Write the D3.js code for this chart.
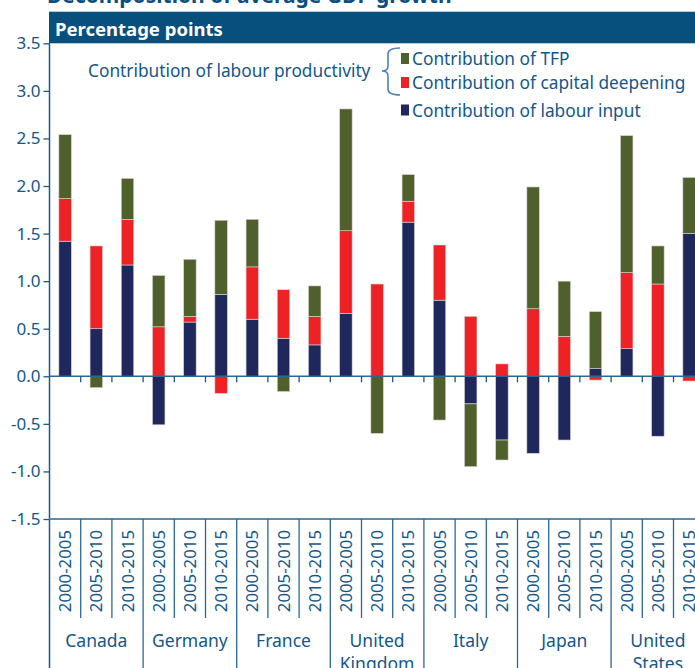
<!DOCTYPE html>
<html>
<head>
<meta charset="utf-8">
<script src="https://cdn.jsdelivr.net/npm/d3@7"></script>
<style>
  html,body{margin:0;padding:0;background:#fff;overflow:hidden;}
  #chart{width:695px;height:668px;}
  text{font-family:"Noto Sans","Open Sans",sans-serif;}
</style>
</head>
<body>
<div id="chart"></div>
<script>
// Decomposition of average GDP growth, stacked by contribution
const countries = ['Canada','Germany','France','United Kingdom','Italy','Japan','United States'];
const periods = ['2000-2005','2005-2010','2010-2015'];
// one value per country x period, in the order above
const labourInput = [1.42,0.50,1.17, -0.51,0.57,0.86, 0.60,0.40,0.33, 0.66,0.00,1.62, 0.80,-0.29,-0.67, -0.81,-0.67,0.08, 0.29,-0.63,1.50];
const capitalDeepening = [0.45,0.87,0.48, 0.52,0.06,-0.18, 0.55,0.51,0.30, 0.87,0.97,0.22, 0.58,0.63,0.13, 0.71,0.42,-0.04, 0.80,0.97,-0.05];
const tfp = [0.67,-0.12,0.43, 0.54,0.60,0.78, 0.50,-0.16,0.32, 1.28,-0.60,0.28, -0.46,-0.66,-0.21, 1.28,0.58,0.60, 1.44,0.40,0.59];
const yTicks = [3.5,3.0,2.5,2.0,1.5,1.0,0.5,0.0,-0.5,-1.0,-1.5];
const seriesNames = ['Contribution of TFP','Contribution of capital deepening','Contribution of labour input'];

const rows = [];
countries.forEach((c,i)=>periods.forEach((p,j)=>{
  const k = i*3+j;
  rows.push({id:k, country:c, period:p, labour:labourInput[k], capital:capitalDeepening[k], tfp:tfp[k]});
}));

const colors = {labour:'#1e285c', capital:'#ee2125', tfp:'#50602c'};
const textCol = '#135789';
const axisCol = '#1b5987';

const W = 695, H = 668;
const svg = d3.select('#chart').append('svg').attr('width',W).attr('height',H);

const plotLeft = 49.5, step = 31.2;
const plotRight = plotLeft + step*rows.length;
const plotTop = 43.3, plotBottom = 519;

const y = d3.scaleLinear().domain([-1.5,3.5]).range([plotBottom,plotTop]);
const xBand = d3.scaleBand().domain(rows.map(d=>d.id)).range([plotLeft,plotRight]);
const xBar = d3.scaleBand().domain(rows.map(d=>d.id)).range([plotLeft,plotRight]).paddingInner(0.6).paddingOuter(0.3);

// title (cut off at top)
svg.append('text').attr('x',47).attr('y',3).attr('font-size',21).attr('font-weight','700')
  .attr('fill','#0b4f80').text('Decomposition of average GDP growth');

// header band
svg.append('rect').attr('x',49).attr('y',11.7).attr('width',W).attr('height',plotTop-11.7).attr('fill','#074f7c');
svg.append('text').attr('x',55).attr('y',36).attr('font-size',18.5).attr('font-weight','700')
  .attr('fill','#fff').text('Percentage points');

// bars
const stack = d3.stack().keys(['labour','capital','tfp']).offset(d3.stackOffsetDiverging);
const layers = stack(rows);
svg.append('g').selectAll('g').data(layers).join('g')
  .attr('fill',d=>colors[d.key])
  .selectAll('rect').data(d=>d).join('rect')
  .attr('x',d=>xBar(d.data.id))
  .attr('width',xBar.bandwidth())
  .attr('y',d=>y(Math.max(d[0],d[1])))
  .attr('height',d=>Math.abs(y(d[0])-y(d[1])))
  .attr('stroke','#d6d6d6').attr('stroke-width',0.6);

// left axis
const yAxis = d3.axisLeft(y).tickValues(yTicks).tickFormat(d3.format('.1f')).tickSize(6).tickPadding(3);
const ya = svg.append('g').attr('transform',`translate(${plotLeft},0)`).call(yAxis);
ya.select('.domain').remove();
ya.selectAll('line').attr('stroke',axisCol).attr('stroke-width',1.3);
ya.selectAll('text').attr('font-size',17).attr('fill',textCol)
  .text(d=>d3.format('.1f')(d).replace('\u2212','-'));
svg.append('line').attr('x1',plotLeft).attr('x2',plotLeft).attr('y1',plotTop).attr('y2',H)
  .attr('stroke',axisCol).attr('stroke-width',1.5);

// zero line with small ticks at band boundaries
const bounds = rows.map(d=>xBand(d.id)).concat([plotRight]);
svg.append('line').attr('x1',plotLeft).attr('x2',plotRight).attr('y1',y(0)).attr('y2',y(0))
  .attr('stroke','#2c6894').attr('stroke-width',1.5);
svg.append('g').selectAll('line').data(bounds.slice(1)).join('line')
  .attr('x1',d=>d).attr('x2',d=>d).attr('y1',y(0)).attr('y2',y(0)+6)
  .attr('stroke',axisCol).attr('stroke-width',1.3);

// bottom category axis
svg.append('line').attr('x1',plotLeft).attr('x2',plotRight).attr('y1',plotBottom).attr('y2',plotBottom)
  .attr('stroke','#5b8cad').attr('stroke-width',2);
svg.append('g').selectAll('line').data(bounds.slice(1)).join('line')
  .attr('x1',d=>d).attr('x2',d=>d).attr('y1',plotBottom)
  .attr('y2',(d,i)=>((i+1)%3===0)?H:618)
  .attr('stroke','#2c6894').attr('stroke-width',1.3);

svg.append('g').selectAll('text').data(rows).join('text')
  .attr('transform',d=>`translate(${xBand(d.id)+step/2+6},${530}) rotate(-90)`)
  .attr('text-anchor','end').attr('font-size',16.8).attr('fill',textCol)
  .text(d=>d.period);

const groups = svg.append('g').selectAll('text').data(countries).join('text')
  .attr('x',(d,i)=>plotLeft+step*(i*3+1.5)).attr('y',647)
  .attr('text-anchor','middle').attr('font-size',17.5).attr('fill',textCol);
groups.selectAll('tspan').data(d=>d.split(' ')).join('tspan')
  .attr('x',function(){return this.parentNode.getAttribute('x');})
  .attr('dy',(d,i)=>i===0?0:23).text(d=>d);

// legend
svg.append('text').attr('x',88).attr('y',77).attr('font-size',17.3).attr('fill',textCol)
  .text('Contribution of labour productivity');
svg.append('path')
  .attr('d','M400,48 Q388,48 388,54 L388,66 Q388,71 382,71 Q388,71 388,76 L388,89 Q388,95 400,95')
  .attr('fill','none').attr('stroke','#4a80c4').attr('stroke-width',1.6);
const legendKeys = ['tfp','capital','labour'];
const legendY = [58.5,82.5,110];
const lg = svg.append('g').selectAll('g').data(seriesNames).join('g')
  .attr('transform',(d,i)=>`translate(401,${legendY[i]})`);
lg.append('rect').attr('x',0).attr('y',-5.5).attr('width',8).attr('height',11)
  .attr('fill',(d,i)=>colors[legendKeys[i]]);
lg.append('text').attr('x',11).attr('y',6.5).attr('font-size',17.3).attr('fill',textCol).text(d=>d);
</script>
</body>
</html>
